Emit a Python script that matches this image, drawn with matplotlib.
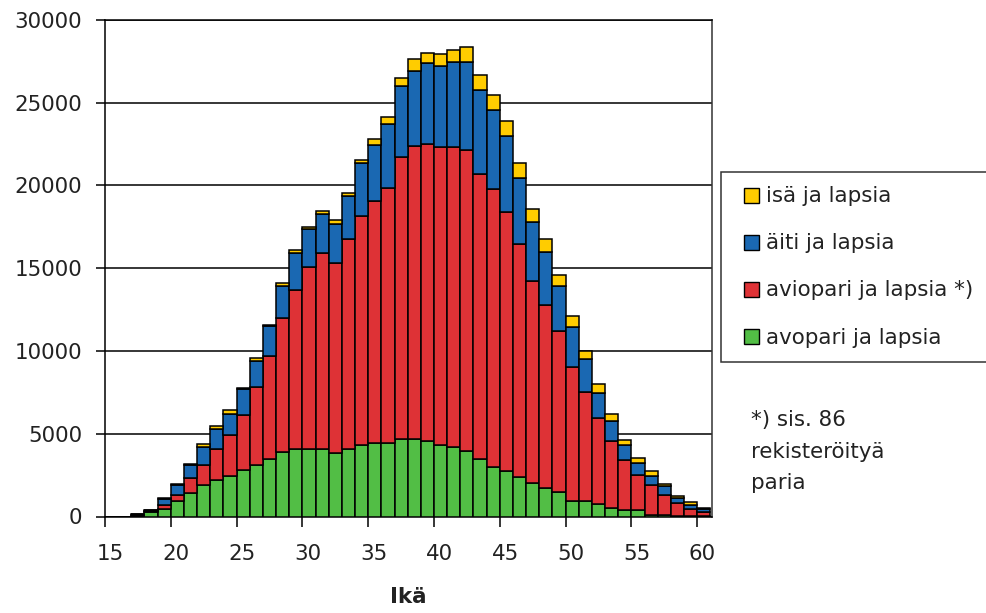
import matplotlib
matplotlib.use("Agg")
import matplotlib.pyplot as plt
from matplotlib.lines import Line2D
import numpy as np

plt.rcParams['font.family'] = ['DejaVu Sans']

ages = list(range(15, 61))
avopari = [0, 0, 50, 260, 460, 940, 1420, 1920, 2180, 2420, 2820, 3120, 3500, 3900, 4080,
           4060, 4060, 3840, 4060, 4300, 4440, 4440, 4660, 4660, 4560, 4300, 4200, 3960,
           3500, 3000, 2770, 2410, 2030, 1720, 1460, 960, 960, 760, 520, 380, 380, 100,
           80, 60, 40, 30]
aviopari = [0, 0, 30, 60, 240, 360, 880, 1200, 1900, 2500, 3340, 4700, 6220, 8120, 9620,
            11030, 11840, 11450, 12700, 13880, 14600, 15420, 17040, 17750, 17950, 18010,
            18110, 18210, 17220, 16770, 15650, 14080, 12180, 11050, 9740, 8080, 6540, 5170,
            4070, 3010, 2150, 1820, 1240, 760, 420, 260]
aiti = [0, 0, 50, 80, 360, 600, 820, 1100, 1220, 1300, 1560, 1560, 1820, 1880, 2200,
        2270, 2400, 2370, 2600, 3150, 3410, 3850, 4340, 4530, 4870, 4930, 5170, 5270,
        5060, 4810, 4600, 3970, 3600, 3240, 2750, 2380, 2000, 1520, 1180, 940, 700, 500,
        500, 300, 260, 150]
isa = [0, 0, 20, 20, 80, 80, 40, 160, 160, 200, 60, 180, 60, 220, 200, 140, 160, 240,
       200, 240, 360, 400, 480, 680, 600, 700, 700, 940, 900, 860, 870, 870, 750, 750,
       660, 670, 500, 530, 420, 300, 300, 300, 160, 140, 140, 80]

labels = ['isä ja lapsia', 'äiti ja lapsia', 'aviopari ja lapsia *)', 'avopari ja lapsia']
colors = {'isa': '#FFCC00', 'aiti': '#1A68B2', 'avio': '#DE3236', 'avo': '#52BE45'}
yticks = [0, 5000, 10000, 15000, 20000, 25000, 30000]
xtick_ages = [15, 20, 25, 30, 35, 40, 45, 50, 55, 60]

FS = 15.4
TXT = '#222222'
W, H = 986, 613
fig = plt.figure(figsize=(W / 100, H / 100), dpi=100)
ax = fig.add_axes([105 / W, 1 - 516.5 / H, (711.7 - 105) / W, (516.5 - 20) / H])

pos = np.arange(len(ages)) + 0.5
g = np.array(avopari)
r = np.array(aviopari)
b = np.array(aiti)
y = np.array(isa)
kw = dict(width=1.0, edgecolor='black', linewidth=1.1, zorder=3)
ax.bar(pos, g, color=colors['avo'], **kw)
ax.bar(pos, r, bottom=g, color=colors['avio'], **kw)
ax.bar(pos, b, bottom=g + r, color=colors['aiti'], **kw)
ax.bar(pos, y, bottom=g + r + b, color=colors['isa'], **kw)

ax.set_xlim(0, 46.1)
ax.set_ylim(0, 30000)
ax.set_yticks(yticks)
ax.set_yticklabels([str(v) for v in yticks])
ax.yaxis.grid(True, color='black', linewidth=1.1, zorder=0)
ax.set_axisbelow(True)

# tick marks at category boundaries, labels under bars
ax.set_xticks([a - 15 for a in xtick_ages])
ax.set_xticklabels([])
ax.set_xticks([a - 15 + 0.4 for a in xtick_ages], minor=True)
ax.set_xticklabels([str(a) for a in xtick_ages], minor=True)
ax.tick_params(axis='x', which='major', direction='out', length=7, width=1.1, color='black')
ax.tick_params(axis='x', which='minor', length=0, pad=20, labelsize=FS, labelcolor=TXT)
ax.tick_params(axis='y', direction='out', length=6.5, width=1.1, pad=10, labelsize=FS,
               labelcolor=TXT)
for s in ax.spines.values():
    s.set_color('black')
    s.set_linewidth(1.1)
ax.spines['right'].set_color('#333333')

fig.text(408 / W, 1 - 597 / H, 'Ikä', ha='center', va='center', fontsize=FS,
         fontweight='bold', color=TXT)

handles = [Line2D([], [], linestyle='none', marker='s', markersize=10.8,
                  markerfacecolor=c, markeredgecolor='black', markeredgewidth=1.0)
           for c in (colors['isa'], colors['aiti'], colors['avio'], colors['avo'])]
leg = fig.legend(handles, labels, loc='upper left', bbox_to_anchor=(721 / W, 1 - 172 / H),
                 fontsize=FS, frameon=True, fancybox=False, edgecolor='black',
                 numpoints=1, handlelength=1.51, handleheight=0.7, handletextpad=-0.08,
                 labelspacing=1.27, borderpad=0.66, borderaxespad=0)
leg.get_frame().set_linewidth(1.1)
for t in leg.get_texts():
    t.set_color(TXT)

note = ['*) sis. 86', 'rekisteröityä', 'paria']
for i, line in enumerate(note):
    fig.text(751 / W, 1 - (420 + i * 31.7) / H, line, ha='left', va='center', fontsize=FS,
             color=TXT)

fig.savefig('out.png', dpi=100)
